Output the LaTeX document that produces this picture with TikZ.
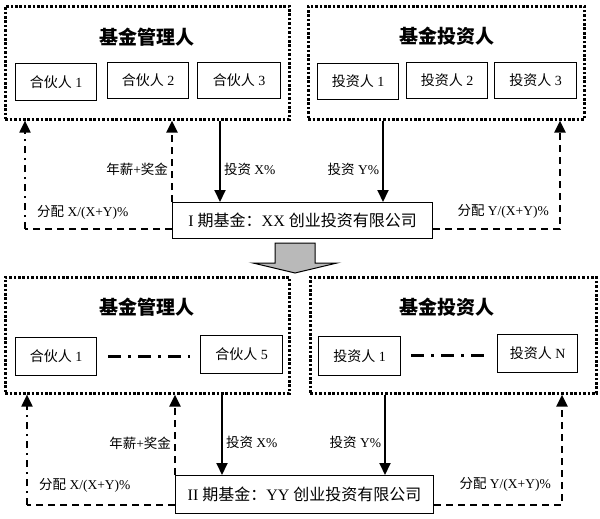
\documentclass[tikz,border=0pt]{standalone}
\usepackage{fontspec}
\setmainfont{Liberation Serif}
\newfontfamily\cjk{Noto Sans CJK SC}
\usepackage{tikz}
\usetikzlibrary{
	arrows.meta,
	calc,
	positioning
}
\tikzstyle{every picture}+=[>={Triangle[length=12pt,width=11pt]}]

\begin{document}
\begin{tikzpicture}[x=1pt,y=-1pt]
	\useasboundingbox (0,0) rectangle (600,519);

	\begin{scope}[
			grp/.style={draw, line width=2.6pt, dash pattern=on 2.6pt off 1.8pt, anchor=north west, inner sep=0pt},
			mem/.style={draw, line width=1.2pt, anchor=north west, inner sep=0pt, font=\fontsize{14}{16}\selectfont},
			fund/.style={draw, line width=1.2pt, anchor=north west, inner sep=0pt, font=\fontsize{16}{18}\selectfont},
			ttl/.style={font=\cjk\bfseries\fontsize{19}{21}\selectfont},
			lbl/.style={font=\fontsize{13.5}{15}\selectfont, inner sep=3pt},
			arr/.style={->, line width=2pt},
			arr2/.style={->, line width=2.2pt, dash pattern=on 7pt off 5pt},
			arr3/.style={->, line width=2pt, dash pattern=on 7pt off 5pt on 2pt off 5pt},
			dsh/.style={line width=2.2pt, dash pattern=on 7pt off 5pt},
			dotdash/.style={line width=3pt, dash pattern=on 13pt off 7pt on 3pt off 7pt}
			]

		% stage I
		\node[grp, minimum width=284pt, minimum height=113pt] (mgrA) at (4,5) {};
		\node[ttl] (mgrAt) at (147,37) {基金管理人};
		\node[mem, minimum width=81pt, minimum height=37pt] (pA1) at (15,63) {{\cjk 合伙人} 1};
		\node[mem, minimum width=81pt, minimum height=36pt] (pA2) at (107,62) {{\cjk 合伙人} 2};
		\node[mem, minimum width=83pt, minimum height=36pt] (pA3) at (197,62) {{\cjk 合伙人} 3};

		\node[grp, minimum width=276pt, minimum height=113pt] (invA) at (307,5) {};
		\node[ttl] (invAt) at (447,36) {基金投资人};
		\node[mem, minimum width=81pt, minimum height=36pt] (iA1) at (317,63) {{\cjk 投资人} 1};
		\node[mem, minimum width=81pt, minimum height=36pt] (iA2) at (406,62) {{\cjk 投资人} 2};
		\node[mem, minimum width=82pt, minimum height=36pt] (iA3) at (494,62) {{\cjk 投资人} 3};

		\node[fund, minimum width=260pt, minimum height=36pt] (fundA) at (172,202)
			{I {\cjk 期基金：}XX {\cjk 创业投资有限公司}};

		\draw[arr] (mgrA.south -| 220,0) -- (fundA.north -| 220,0)
			node[lbl, pos=0.6, right] {{\cjk 投资} X\%};
		\draw[arr] (invA.south -| 383,0) -- (fundA.north -| 383,0)
			node[lbl, pos=0.6, left] {{\cjk 投资} Y\%};
		\draw[arr2] (fundA.north west) -- (mgrA.south -| fundA.north west)
			node[lbl, pos=0.4, left] {{\cjk 年薪}+{\cjk 奖金}};

		\coordinate (cA) at (25,229);
		\draw[dsh] (fundA.west |- cA) -- (cA);
		\draw[arr3] (cA) -- (mgrA.south -| cA);
		\node[lbl, anchor=west] (dA) at (34,212) {{\cjk 分配} X/(X+Y)\%};

		\coordinate (cB) at (560,229);
		\draw[arr2] (fundA.east |- cB) -| (invA.south -| cB);
		\node[lbl, anchor=east] (dB) at (552,211) {{\cjk 分配} Y/(X+Y)\%};

		% transition
		\draw[fill=gray!55, line width=1pt] (275,243) -- (315,243) -- (315,263) -- (337,263)
			-- (295,273) -- (253,263) -- (275,263) -- cycle;

		% stage II
		\node[grp, minimum width=284pt, minimum height=116pt] (mgrB) at (4,276) {};
		\node[ttl] (mgrBt) at (147,307) {基金管理人};
		\node[mem, minimum width=81pt, minimum height=38pt] (pB1) at (15,337) {{\cjk 合伙人} 1};
		\node[mem, minimum width=82pt, minimum height=38pt] (pB5) at (200,335) {{\cjk 合伙人} 5};
		\draw[dotdash] ([xshift=11pt]pB1.east |- 0,356) -- ([xshift=-10pt]pB5.west |- 0,356);

		\node[grp, minimum width=286pt, minimum height=116pt] (invB) at (309,276) {};
		\node[ttl] (invBt) at (447,307) {基金投资人};
		\node[mem, minimum width=82pt, minimum height=39pt] (iB1) at (318,336) {{\cjk 投资人} 1};
		\node[mem, minimum width=80pt, minimum height=38pt] (iBN) at (497,334) {{\cjk 投资人} N};
		\draw[dotdash] ([xshift=10pt]iB1.east |- 0,355) -- ([xshift=-8pt]iBN.west |- 0,355);

		\node[fund, minimum width=258pt, minimum height=38pt] (fundB) at (175,475)
			{II {\cjk 期基金：}YY {\cjk 创业投资有限公司}};

		\draw[arr] (mgrB.south -| 222,0) -- (fundB.north -| 222,0)
			node[lbl, pos=0.6, right] {{\cjk 投资} X\%};
		\draw[arr] (invB.south -| 385,0) -- (fundB.north -| 385,0)
			node[lbl, pos=0.6, left] {{\cjk 投资} Y\%};
		\draw[arr2] (fundB.north west) -- (mgrB.south -| fundB.north west)
			node[lbl, pos=0.4, left] {{\cjk 年薪}+{\cjk 奖金}};

		\coordinate (cC) at (27,505);
		\draw[dsh] (fundB.west |- cC) -- (cC);
		\draw[arr3] (cC) -- (mgrB.south -| cC);
		\node[lbl, anchor=west] (dC) at (36,485) {{\cjk 分配} X/(X+Y)\%};

		\coordinate (cD) at (562,505);
		\draw[arr2] (fundB.east |- cD) -| (invB.south -| cD);
		\node[lbl, anchor=east] (dD) at (554,484) {{\cjk 分配} Y/(X+Y)\%};

	\end{scope}

\end{tikzpicture}
\end{document}
